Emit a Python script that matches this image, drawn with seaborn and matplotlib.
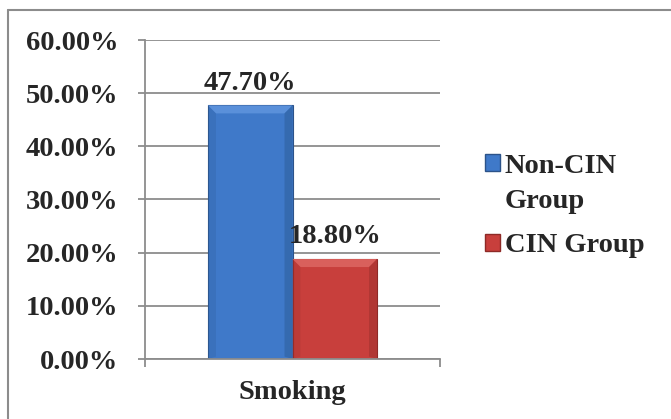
import pandas as pd
import matplotlib.pyplot as plt
import seaborn as sns
from matplotlib.lines import Line2D
from matplotlib.patches import Polygon
from matplotlib.ticker import FuncFormatter

factor = ["Smoking"]
groups = ["Non-CIN Group", "CIN Group"]
legend_labels = ["Non-CIN\nGroup", "CIN Group"]
values = [47.7, 18.8]
colors = ["#3f79c9", "#c83f3c"]

df = pd.DataFrame({"factor": factor * len(groups), "group": groups, "pct": values})

sns.set_style("white")
plt.rcParams["font.family"] = ["Liberation Serif", "DejaVu Serif"]
plt.rcParams["font.weight"] = "bold"
FS = 20.5

fig = plt.figure(figsize=(6.71, 4.19), dpi=100)
ax = fig.add_axes([145 / 671, 1 - 359 / 419, 295 / 671, 319 / 419])

sns.barplot(data=df, x="factor", y="pct", hue="group", palette=colors, saturation=1,
            width=0.573, edgecolor="#2a4f86", linewidth=0.8, legend=False, ax=ax)

ax.set_xlim(-0.5, 0.5)
ax.set_ylim(0, 60)
ax.set_yticks(range(0, 61, 10))
ax.yaxis.set_major_formatter(FuncFormatter(lambda v, p: f"{v:.2f}%"))
ax.yaxis.grid(True, color="#8c8c8c", linewidth=1.3)
ax.set_axisbelow(True)
for s in ["top", "right"]:
    ax.spines[s].set_visible(False)
for s in ["left", "bottom"]:
    ax.spines[s].set_color("#8c8c8c")
    ax.spines[s].set_linewidth(1.3)
ax.set_xlabel("")
ax.set_ylabel("")
ax.tick_params(axis="y", length=5, width=1.3, color="#8c8c8c", pad=14, labelsize=FS, left=True)
ax.set_xticks([-0.5, 0.5], minor=True)
ax.tick_params(axis="x", which="minor", length=6, width=1.3, color="#8c8c8c", bottom=True)
ax.tick_params(axis="x", which="major", length=0, pad=15, labelsize=FS)
for lbl in ax.get_xticklabels() + ax.get_yticklabels():
    lbl.set_fontweight("bold")

# bevel look on each bar
fig.canvas.draw()
edge_col = ["#2c5389", "#8e2a27"]
hi = ["#5a90da", "#d9605c"]
lo = ["#2f609f", "#a23330"]
for i, bar in enumerate(ax.patches):
    bar.set_edgecolor(edge_col[i])
    x0, y0 = bar.get_x(), bar.get_y()
    x1, y1 = x0 + bar.get_width(), y0 + bar.get_height()
    inv = ax.transData.inverted()
    p0 = inv.transform((0, 0))
    p1 = inv.transform((8, 8))
    dx, dy = p1[0] - p0[0], p1[1] - p0[1]
    z = bar.get_zorder() + 0.1
    ax.add_patch(Polygon([(x0, y1), (x1, y1), (x1 - dx, y1 - dy), (x0 + dx, y1 - dy)],
                         closed=True, facecolor=hi[i], edgecolor="none", zorder=z))
    ax.add_patch(Polygon([(x1, y1), (x1, y0), (x1 - dx, y0 + dy * 0.3), (x1 - dx, y1 - dy)],
                         closed=True, facecolor=lo[i], edgecolor="none", alpha=0.6, zorder=z))
    ax.add_patch(Polygon([(x0, y1), (x0, y0), (x0 + dx, y0 + dy * 0.3), (x0 + dx, y1 - dy)],
                         closed=True, facecolor=lo[i], edgecolor="none", alpha=0.3, zorder=z))

for cont in ax.containers:
    ax.bar_label(cont, fmt="%.2f%%", padding=7, fontsize=FS, fontweight="bold")

handles = [plt.Rectangle((0, 0), 1, 1, facecolor=c, edgecolor=e) for c, e in zip(colors, edge_col)]
leg = fig.legend(handles, legend_labels, loc="upper left",
                 bbox_to_anchor=(459 / 671, 1 - 128 / 419), frameon=False,
                 handlelength=0.55, handleheight=0.55, handletextpad=0.15, labelspacing=0.68,
                 prop={"weight": "bold", "size": FS})
for t in leg.get_texts():
    t.set_linespacing(1.55)

# put the first legend square beside the first line of its label
fig.canvas.draw()
r = fig.canvas.get_renderer()
tb = [t.get_window_extent(r) for t in leg.get_texts()]
hb = [h.get_window_extent(r) for h in leg.legend_handles]
off = (hb[1].y0 + hb[1].y1) / 2 - tb[1].y1
shift_px = tb[0].y1 + off - (hb[0].y0 + hb[0].y1) / 2
leg.legend_handles[0].set_y(leg.legend_handles[0].get_y() + shift_px * 72 / fig.dpi)

# outer chart border (top and left visible)
fig.add_artist(Line2D([8 / 671, 8 / 671], [0, 1 - 10 / 419], transform=fig.transFigure,
                      color="#8c8c8c", linewidth=1.5))
fig.add_artist(Line2D([8 / 671, 1], [1 - 10 / 419, 1 - 10 / 419], transform=fig.transFigure,
                      color="#8c8c8c", linewidth=1.5))

fig.savefig("out.png", dpi=100)
